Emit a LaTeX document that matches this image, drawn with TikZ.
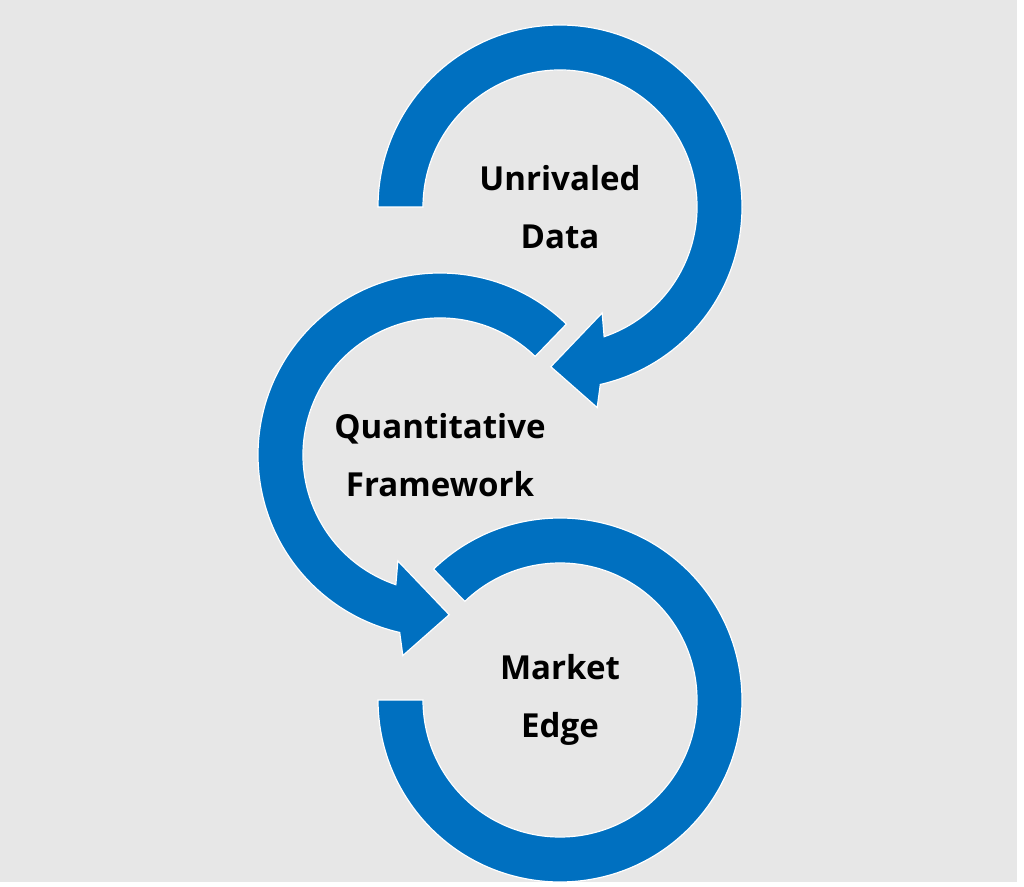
\documentclass[tikz,border=0pt]{standalone}
\usepackage{fontspec}
\setmainfont{Open Sans}
\usetikzlibrary{positioning}
\definecolor{ringblue}{HTML}{0070C0}
\definecolor{bggray}{HTML}{E7E7E7}

\begin{document}
\begin{tikzpicture}[x=0.75pt,y=0.75pt,
	rstyle/.style={fill=ringblue, draw=white, line width=0.9pt, line join=miter},
	tstyle/.style={align=center, font=\fontsize{24.8}{43.5}\selectfont\bfseries, text=black}
	]
	\useasboundingbox (0,0) rectangle (1024,886);
	\fill[white] (0,0) rectangle (1024,886);
	\fill[bggray] (0,4) rectangle (1017,886);
	
	\coordinate (c1) at (560,679);
	\coordinate (c2) at (440,431);
	\coordinate (c3) at (560,186);
	
	% first ring, clockwise, head at the bottom
	\begin{scope}[shift={(c1)}]
	\draw[rstyle] (180:182) arc[start angle=180, end angle=-77.2, radius=182]
		-- (-79.5:204) -- (-93.3:160) -- (-68.3:114) -- (-71.2:137)
		arc[start angle=-71.2, end angle=180, radius=137] -- cycle;
	\end{scope}
	% second ring, counter clockwise
	\begin{scope}[shift={(c2)}]
	\draw[rstyle] (46:182) arc[start angle=46, end angle=257.2, radius=182]
		-- (259.5:204) -- (273.3:160) -- (248.3:114) -- (251.2:137)
		arc[start angle=251.2, end angle=46, radius=137] -- cycle;
	\end{scope}
	% third ring, no head
	\begin{scope}[shift={(c3)}]
	\draw[rstyle] (134:182) arc[start angle=134, end angle=-180, radius=182]
		-- (-180:137) arc[start angle=-180, end angle=134, radius=137] -- cycle;
	\end{scope}
	
	\node[tstyle] (ud) at (c1) {Unrivaled\\Data};
	\node[tstyle] (qf) at (c2) {Quantitative\\Framework};
	\node[tstyle] (me) at (c3) {Market\\Edge};
\end{tikzpicture}
\end{document}
